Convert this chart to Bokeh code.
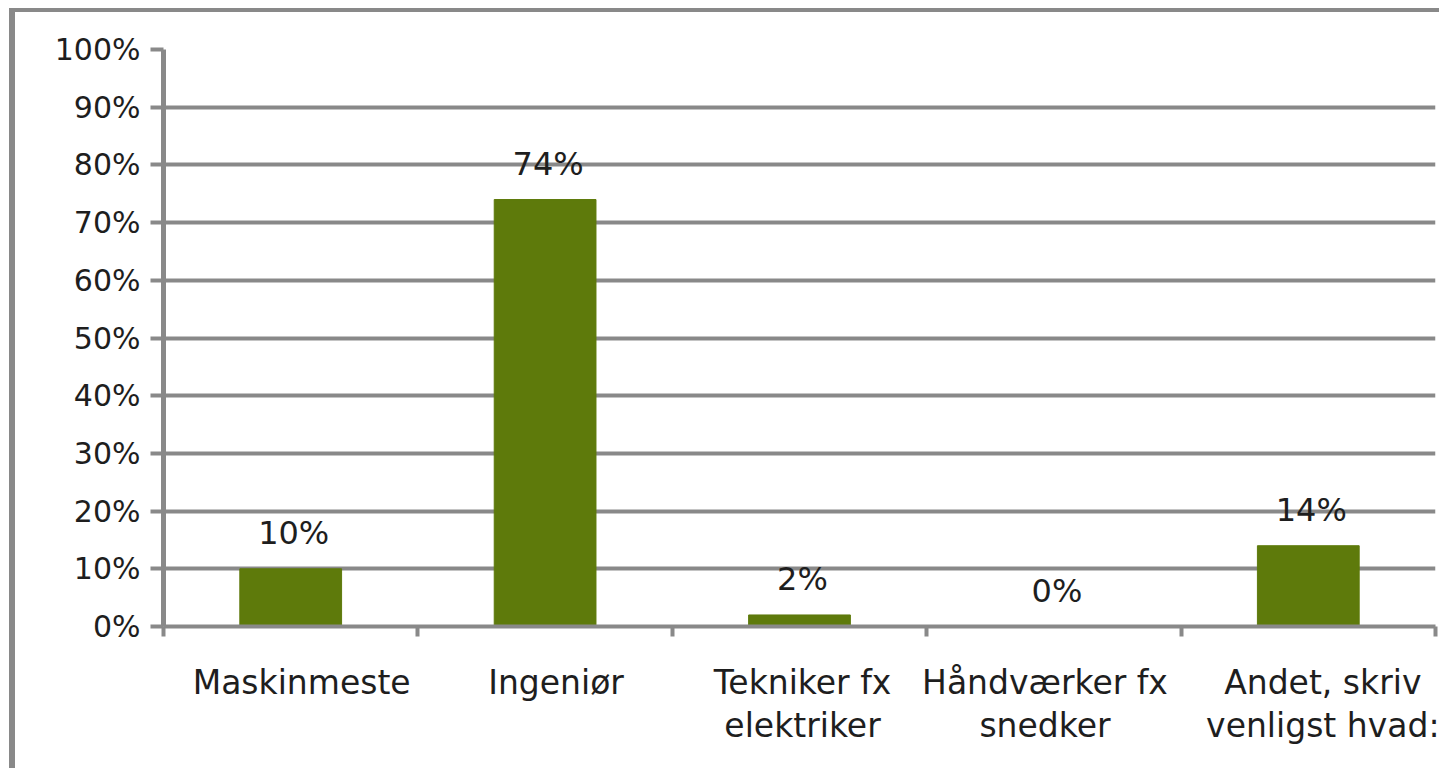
from bokeh.plotting import figure
from bokeh.models import Range1d, FixedTicker, PrintfTickFormatter, ColumnDataSource
from bokeh.core.properties import value
from bokeh.embed import file_html
from bokeh.resources import INLINE

categories = ["Maskinmeste", "Ingeniør", "Tekniker fx\nelektriker", "Håndværker fx\nsnedker", "Andet, skriv\nvenligst hvad:"]
values = [10, 74, 2, 0, 14]
y_ticks = [0, 10, 20, 30, 40, 50, 60, 70, 80, 90, 100]

# small horizontal nudges of the category labels (layout only, in category widths)
label_nudge = [0.043, 0.043, 0.012, -0.035, 0.07]

BAR = "#5e7a0b"
GRAY = "#898989"
TXT = "#1e1e1e"
FONT = "DejaVu Sans"

n = len(categories)
centers = [i + 0.5 for i in range(n)]
bounds = [float(i) for i in range(n + 1)]
label_pos = [c + d for c, d in zip(centers, label_nudge)]

src = ColumnDataSource(dict(x=centers, top=values, label=[f"{v}%" for v in values]))

p = figure(width=1430, height=760, output_backend="svg", toolbar_location=None,
           x_range=Range1d(0, n), y_range=Range1d(0, 100),
           min_border_left=148, min_border_right=10, min_border_top=37, min_border_bottom=146)
p.styles = {"border-left": f"6px solid {GRAY}", "border-top": f"4px solid {GRAY}",
            "margin-left": "9px", "margin-top": "8px"}
p.outline_line_color = None
p.background_fill_color = "white"
p.border_fill_color = "white"

p.vbar(x="x", top="top", width=0.4, bottom=0, source=src, fill_color=BAR, line_color=BAR)
p.text(x="x", y="top", text="label", source=src, text_align="center", text_baseline="alphabetic",
       y_offset=-36, x_offset=3, text_font=value(FONT), text_font_size="32px", text_color=TXT)

# grids
p.xgrid.visible = False
p.ygrid.ticker = FixedTicker(ticks=y_ticks)
p.ygrid.grid_line_color = GRAY
p.ygrid.grid_line_width = 4

# y axis
ya = p.yaxis[0]
ya.ticker = FixedTicker(ticks=y_ticks)
ya.formatter = PrintfTickFormatter(format="%d%%")
ya.axis_line_color = GRAY
ya.axis_line_width = 5
ya.major_tick_line_color = GRAY
ya.major_tick_line_width = 4
ya.major_tick_out = 13
ya.major_tick_in = 0
ya.minor_tick_line_color = None
ya.major_label_standoff = 10
ya.major_label_text_font = FONT
ya.major_label_text_font_size = "30px"
ya.major_label_text_color = TXT

# x axis
xa = p.xaxis[0]
xa.ticker = FixedTicker(ticks=label_pos, minor_ticks=bounds)
xa.major_label_overrides = {c: lab for c, lab in zip(label_pos, categories)}
xa.axis_line_color = GRAY
xa.axis_line_width = 4
xa.major_tick_line_color = None
xa.major_tick_out = 0
xa.major_tick_in = 0
xa.minor_tick_line_color = GRAY
xa.minor_tick_line_width = 4
xa.minor_tick_out = 10
xa.minor_tick_in = 0
xa.major_label_standoff = 26
xa.major_label_text_font = FONT
xa.major_label_text_font_size = "33px"
xa.major_label_text_color = TXT
xa.major_label_text_line_height = 1.12

open("out.html", "w").write(file_html(p, INLINE))
